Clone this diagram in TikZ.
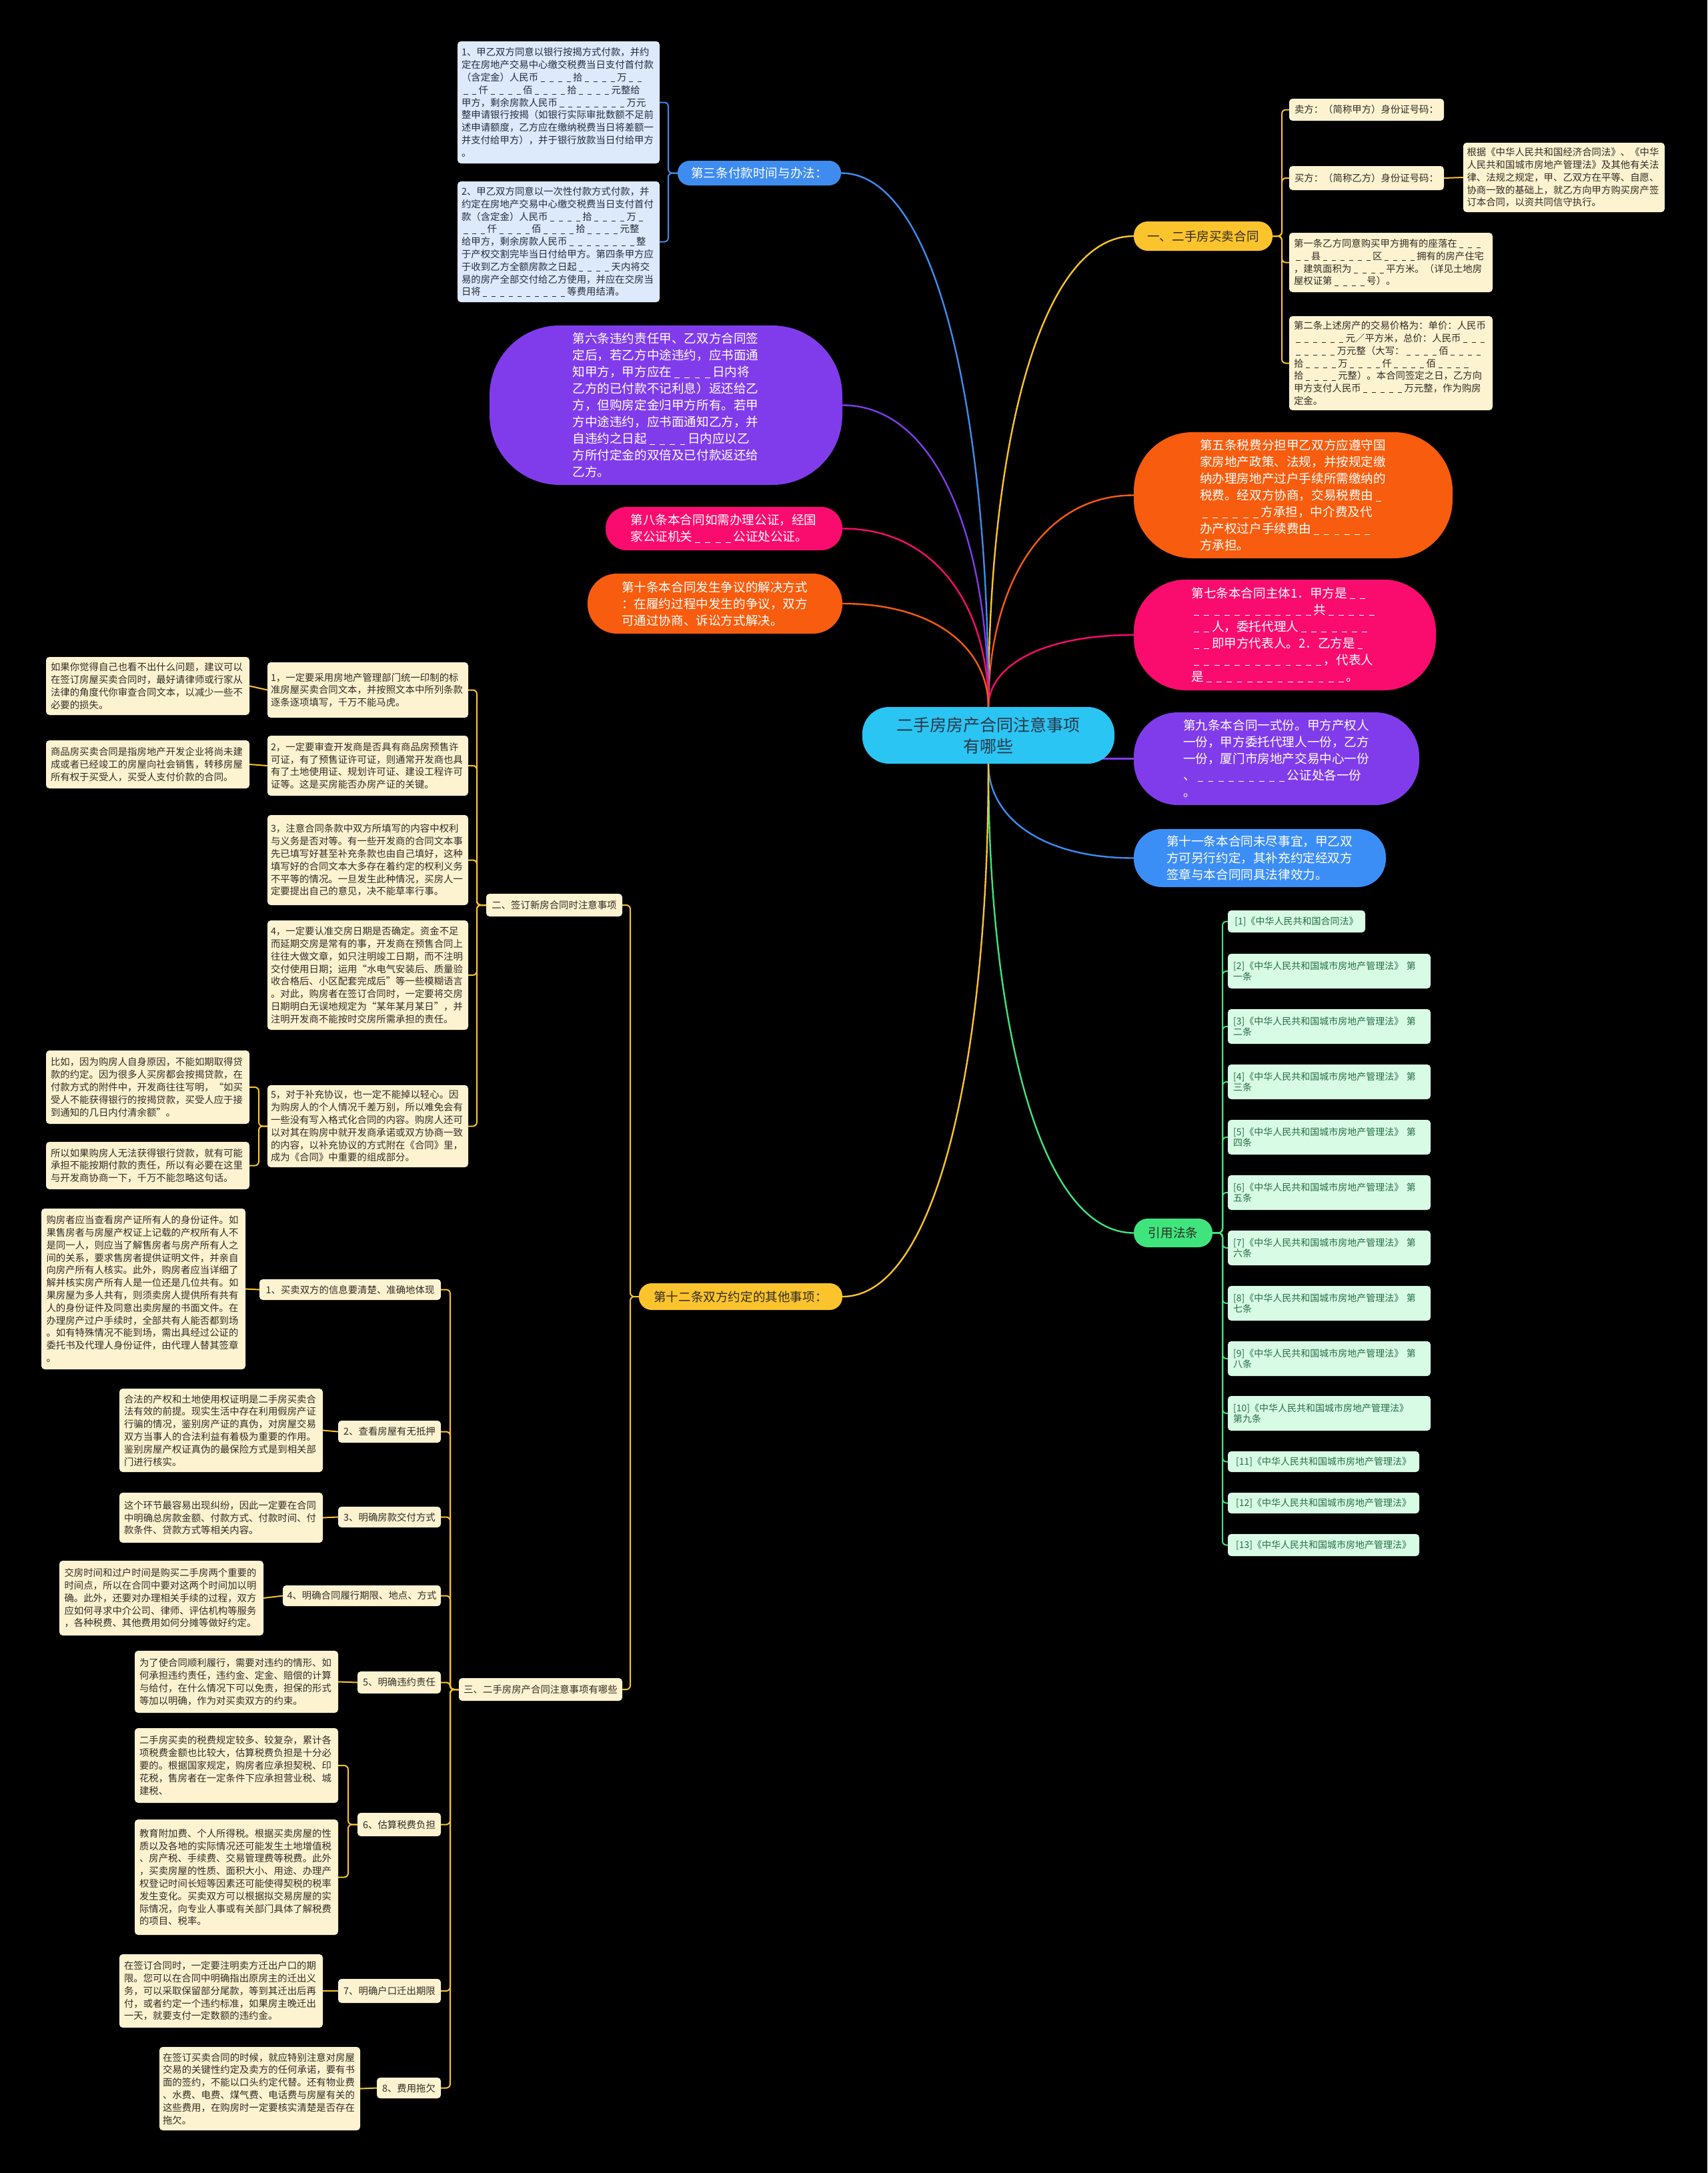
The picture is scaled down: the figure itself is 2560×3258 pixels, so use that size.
\documentclass[tikz,border=0pt]{standalone}
\usepackage{fontspec}
\setmainfont{Noto Sans CJK SC}
\usetikzlibrary{calc}
\pgfdeclarelayer{back}
\pgfdeclarelayer{edges}
\pgfsetlayers{back,edges,main}
\definecolor{ccen}{RGB}{43,197,243}
\definecolor{ccentxt}{RGB}{45,55,72}
\definecolor{cyel}{RGB}{252,196,44}
\definecolor{ccream}{RGB}{254,243,209}
\definecolor{ctxt}{RGB}{48,44,36}
\definecolor{cblue}{RGB}{62,140,240}
\definecolor{clblue}{RGB}{221,234,251}
\definecolor{cbtxt}{RGB}{35,45,60}
\definecolor{cpur}{RGB}{128,60,235}
\definecolor{cpink}{RGB}{250,12,110}
\definecolor{corg}{RGB}{248,92,14}
\definecolor{cblue2}{RGB}{60,142,247}
\definecolor{cgrn}{RGB}{64,228,125}
\definecolor{clgrn}{RGB}{216,251,230}
\definecolor{cgtxt}{RGB}{38,110,68}
\newcommand\ddw{0.82em}
\newcommand\ddone{\makebox[\ddw]{\rule[-0.12em]{0.42em}{0.07em}}}
\newcommand\dd[1]{\ifnum#1>0 \ddone\expandafter\dd\expandafter{\number\numexpr#1-1\relax}\fi}
\newcommand\leaffont{\fontsize{14.4}{18.8}\selectfont\renewcommand\ddw{0.9em}}
\newcommand\bigfont{\fontsize{18.6}{25}\selectfont}
\newcommand\gfont{\fontsize{14}{16}\selectfont}
\newcommand\mybox[7]{%
 \pgfmathsetmacro\mbw{#4-#2}%
 \pgfmathsetmacro\mbh{#5-#3}%
 \pgfmathsetmacro\mbx{(#2+#4)/2}%
 \pgfmathsetmacro\mby{(#3+#5)/2}%
 \node[#6,minimum width=\mbw pt,minimum height=\mbh pt] (#1) at (\mbx,\mby) {#7};}
\newcommand\mcv[3]{\draw[mainln,#1] (#2) .. controls ($(#2)!0.55!(#2|-#3)$) and ($(#2|-#3)!0.35!(#3)$) .. (#3);}
\newcommand\lbr[4]{\draw[subln,#1] (#2.west) -- (#4|-#2.west) |- (#3.east);}
\newcommand\rbr[4]{\draw[subln,#1] (#2.east) -- (#4|-#2.east) |- (#3.west);}
\begin{document}
\begin{tikzpicture}[x=1pt,y=-1pt,
 leaf/.style={fill=ccream,text=ctxt,rounded corners=5pt,inner sep=0pt,align=left,text width=291pt,font=\leaffont},
 lab/.style={fill=ccream,text=ctxt,rounded corners=5pt,inner sep=0pt,align=center,font=\leaffont},
 bleaf/.style={leaf,fill=clblue,text=cbtxt},
 big/.style={text=white,inner sep=0pt,align=left,text width=280pt,font=\bigfont},
 mid/.style={inner sep=0pt,align=center,font=\bigfont},
 gleaf/.style={fill=clgrn,text=cgtxt,rounded corners=5pt,inner sep=0pt,font=\gfont},
 gleaf2/.style={gleaf,align=left,text width=288pt},
 mainln/.style={line width=2.4pt},
 subln/.style={line width=2pt,rounded corners=6pt}]
\useasboundingbox (0,0) rectangle (2560,3258);
\begin{pgfonlayer}{back}
\fill[black] (0,0) rectangle (2560,3258);
\end{pgfonlayer}

% ---------- center ----------
\mybox{cen}{1293}{1060}{1671}{1145}{fill=ccen,text=ccentxt,rounded corners=40pt,inner sep=0pt,align=center,font=\fontsize{25}{32}\selectfont}{二手房房产合同注意事项\\有哪些}

% ---------- right side ----------
\mybox{n1}{1700}{332}{1908}{376}{mid,fill=cyel,text=ctxt,rounded corners=21pt}{一、二手房买卖合同}
\mybox{a1}{1933}{148}{2165}{181}{lab}{卖方：（简称甲方）身份证号码：}
\mybox{a2}{1933}{249}{2165}{285}{lab}{买方：（简称乙方）身份证号码：}
\mybox{a2c}{2194}{214}{2496}{318}{leaf}{根据《中华人民共和国经济合同法》、《中华\\人民共和国城市房地产管理法》及其他有关法\\律、法规之规定，甲、乙双方在平等、自愿、\\协商一致的基础上，就乙方向甲方购买房产签\\订本合同，以资共同信守执行。}
\mybox{a3}{1933}{349}{2238}{438}{leaf}{第一条乙方同意购买甲方拥有的座落在\dd3\\\dd2县\dd6区\dd4拥有的房产住宅\\，建筑面积为\dd4平方米。（详见土地房\\屋权证第\dd4号）。}
\mybox{a4}{1933}{474}{2238}{615}{leaf}{第二条上述房产的交易价格为：单价：人民币\\\dd6元／平方米，总价：人民币\dd3\\\dd5万元整（大写：\dd4佰\dd4\\拾\dd4万\dd4仟\dd4佰\dd4\\拾\dd4元整）。本合同签定之日，乙方向\\甲方支付人民币\dd5万元整，作为购房\\定金。}

\mybox{n5}{1700}{648}{2178}{837}{big,fill=corg,rounded corners=88pt}{第五条税费分担甲乙双方应遵守国\\家房地产政策、法规，并按规定缴\\纳办理房地产过户手续所需缴纳的\\税费。经双方协商，交易税费由\dd1\\\dd6方承担，中介费及代\\办产权过户手续费由\dd6\\方承担。}
\mybox{n7}{1700}{869}{2153}{1035}{big,fill=cpink,rounded corners=78pt}{第七条本合同主体1．甲方是\dd2\\\dd{12}共\dd5\\\dd2人，委托代理人\dd7\\\dd2即甲方代表人。2．乙方是\dd1\\\dd{13}，代表人\\是\dd{14}。}
\mybox{n9}{1700}{1068}{2128}{1207}{big,fill=cpur,rounded corners=66pt}{第九条本合同一式份。甲方产权人\\一份，甲方委托代理人一份，乙方\\一份，厦门市房地产交易中心一份\\、\dd9公证处各一份\\。}
\mybox{n11}{1700}{1243}{2078}{1330}{big,fill=cblue2,rounded corners=42pt}{第十一条本合同未尽事宜，甲乙双\\方可另行约定，其补充约定经双方\\签章与本合同同具法律效力。}
\mybox{law}{1700}{1827}{1818}{1870}{mid,fill=cgrn,text=ctxt,rounded corners=21pt}{引用法条}

\mybox{g1}{1841}{1365}{2047}{1398}{gleaf}{[1]《中华人民共和国合同法》}
\mybox{g2}{1841}{1430}{2145}{1482}{gleaf2}{[2]《中华人民共和国城市房地产管理法》 第\\一条}
\mybox{g3}{1841}{1513}{2145}{1565}{gleaf2}{[3]《中华人民共和国城市房地产管理法》 第\\二条}
\mybox{g4}{1841}{1596}{2145}{1648}{gleaf2}{[4]《中华人民共和国城市房地产管理法》 第\\三条}
\mybox{g5}{1841}{1679}{2145}{1731}{gleaf2}{[5]《中华人民共和国城市房地产管理法》 第\\四条}
\mybox{g6}{1841}{1762}{2145}{1814}{gleaf2}{[6]《中华人民共和国城市房地产管理法》 第\\五条}
\mybox{g7}{1841}{1845}{2145}{1897}{gleaf2}{[7]《中华人民共和国城市房地产管理法》 第\\六条}
\mybox{g8}{1841}{1928}{2145}{1980}{gleaf2}{[8]《中华人民共和国城市房地产管理法》 第\\七条}
\mybox{g9}{1841}{2011}{2145}{2063}{gleaf2}{[9]《中华人民共和国城市房地产管理法》 第\\八条}
\mybox{g10}{1841}{2093}{2145}{2145}{gleaf2}{[10]《中华人民共和国城市房地产管理法》\\第九条}
\mybox{g11}{1841}{2176}{2128}{2207}{gleaf}{[11]《中华人民共和国城市房地产管理法》}
\mybox{g12}{1841}{2238}{2128}{2269}{gleaf}{[12]《中华人民共和国城市房地产管理法》}
\mybox{g13}{1841}{2300}{2128}{2333}{gleaf}{[13]《中华人民共和国城市房地产管理法》}

% ---------- left side ----------
\mybox{p3}{1016}{241}{1261}{278}{mid,fill=cblue,text=white,rounded corners=18pt}{第三条付款时间与办法：}
\mybox{pa}{686}{62}{989}{245}{bleaf}{1、甲乙双方同意以银行按揭方式付款，并约\\定在房地产交易中心缴交税费当日支付首付款\\（含定金）人民币\dd4拾\dd4万\dd2\\\dd2仟\dd4佰\dd4拾\dd4元整给\\甲方，剩余房款人民币\dd8万元\\整申请银行按揭（如银行实际审批数额不足前\\述申请额度，乙方应在缴纳税费当日将差额一\\并支付给甲方），并于银行放款当日付给甲方\\。}
\mybox{pb}{686}{272}{989}{453}{bleaf}{2、甲乙双方同意以一次性付款方式付款，并\\约定在房地产交易中心缴交税费当日支付首付\\款（含定金）人民币\dd4拾\dd4万\dd1\\\dd3仟\dd4佰\dd4拾\dd4元整\\给甲方，剩余房款人民币\dd8整\\于产权交割完毕当日付给甲方。第四条甲方应\\于收到乙方全额房款之日起\dd4天内将交\\易的房产全部交付给乙方使用，并应在交房当\\日将\dd{10}等费用结清。}

\mybox{n6}{734}{488}{1263}{727}{big,fill=cpur,rounded corners=105pt}{第六条违约责任甲、乙双方合同签\\定后，若乙方中途违约，应书面通\\知甲方，甲方应在\dd4日内将\\乙方的已付款不记利息）返还给乙\\方，但购房定金归甲方所有。若甲\\方中途违约，应书面通知乙方，并\\自违约之日起\dd4日内应以乙\\方所付定金的双倍及已付款返还给\\乙方。}
\mybox{n8}{908}{760}{1263}{825}{big,fill=cpink,rounded corners=32pt}{第八条本合同如需办理公证，经国\\家公证机关\dd4公证处公证。}
\mybox{n10}{881}{860}{1263}{950}{big,fill=corg,rounded corners=44pt}{第十条本合同发生争议的解决方式\\：在履约过程中发生的争议，双方\\可通过协商、诉讼方式解决。}
\mybox{n12}{958}{1924}{1263}{1964}{mid,fill=cyel,text=ctxt,rounded corners=19pt}{第十二条双方约定的其他事项：}

\mybox{sb}{729}{1340}{933}{1374}{lab}{二、签订新房合同时注意事项}
\mybox{s1}{401}{993}{702}{1076}{leaf}{1，一定要采用房地产管理部门统一印制的标\\准房屋买卖合同文本，并按照文本中所列条款\\逐条逐项填写，千万不能马虎。}
\mybox{s1c}{69}{985}{374}{1072}{leaf}{如果你觉得自己也看不出什么问题，建议可以\\在签订房屋买卖合同时，最好请律师或行家从\\法律的角度代你审查合同文本，以减少一些不\\必要的损失。}
\mybox{s2}{401}{1103}{702}{1193}{leaf}{2，一定要审查开发商是否具有商品房预售许\\可证，有了预售证许可证，则通常开发商也具\\有了土地使用证、规划许可证、建设工程许可\\证等。这是买房能否办房产证的关键。}
\mybox{s2c}{69}{1110}{374}{1182}{leaf}{商品房买卖合同是指房地产开发企业将尚未建\\成或者已经竣工的房屋向社会销售，转移房屋\\所有权于买受人，买受人支付价款的合同。}
\mybox{s3}{401}{1222}{702}{1357}{leaf}{3，注意合同条款中双方所填写的内容中权利\\与义务是否对等。有一些开发商的合同文本事\\先已填写好甚至补充条款也由自己填好，这种\\填写好的合同文本大多存在着约定的权利义务\\不平等的情况。一旦发生此种情况，买房人一\\定要提出自己的意见，决不能草率行事。}
\mybox{s4}{401}{1380}{702}{1544}{leaf}{4，一定要认准交房日期是否确定。资金不足\\而延期交房是常有的事，开发商在预售合同上\\往往大做文章，如只注明竣工日期，而不注明\\交付使用日期；运用“水电气安装后、质量验\\收合格后、小区配套完成后”等一些模糊语言\\。对此，购房者在签订合同时，一定要将交房\\日期明白无误地规定为“某年某月某日”，并\\注明开发商不能按时交房所需承担的责任。}
\mybox{s5}{401}{1627}{702}{1750}{leaf}{5，对于补充协议，也一定不能掉以轻心。因\\为购房人的个人情况千差万别，所以难免会有\\一些没有写入格式化合同的内容。购房人还可\\以对其在购房中就开发商承诺或双方协商一致\\的内容，以补充协议的方式附在《合同》里，\\成为《合同》中重要的组成部分。}
\mybox{s5a}{69}{1575}{374}{1685}{leaf}{比如，因为购房人自身原因，不能如期取得贷\\款的约定。因为很多人买房都会按揭贷款，在\\付款方式的附件中，开发商往往写明，“如买\\受人不能获得银行的按揭贷款，买受人应于接\\到通知的几日内付清余额”。}
\mybox{s5b}{69}{1712}{374}{1783}{leaf}{所以如果购房人无法获得银行贷款，就有可能\\承担不能按期付款的责任，所以有必要在这里\\与开发商协商一下，千万不能忽略这句话。}

\mybox{tb}{688}{2516}{933}{2550}{lab}{三、二手房房产合同注意事项有哪些}
\mybox{t1}{389}{1918}{661}{1949}{lab}{1、买卖双方的信息要清楚、准确地体现}
\mybox{t1c}{62}{1812}{368}{2053}{leaf}{购房者应当查看房产证所有人的身份证件。如\\果售房者与房屋产权证上记载的产权所有人不\\是同一人，则应当了解售房者与房产所有人之\\间的关系，要求售房者提供证明文件，并亲自\\向房产所有人核实。此外，购房者应当详细了\\解并核实房产所有人是一位还是几位共有。如\\果房屋为多人共有，则须卖房人提供所有共有\\人的身份证件及同意出卖房屋的书面文件。在\\办理房产过户手续时，全部共有人能否都到场\\。如有特殊情况不能到场，需出具经过公证的\\委托书及代理人身份证件，由代理人替其签章\\。}
\mybox{t2}{507}{2130}{661}{2163}{lab}{2、查看房屋有无抵押}
\mybox{t2c}{179}{2082}{484}{2207}{leaf}{合法的产权和土地使用权证明是二手房买卖合\\法有效的前提。现实生活中存在利用假房产证\\行骗的情况，鉴别房产证的真伪，对房屋交易\\双方当事人的合法利益有着极为重要的作用。\\鉴别房屋产权证真伪的最保险方式是到相关部\\门进行核实。}
\mybox{t3}{507}{2259}{661}{2290}{lab}{3、明确房款交付方式}
\mybox{t3c}{179}{2238}{484}{2313}{leaf}{这个环节最容易出现纠纷，因此一定要在合同\\中明确总房款金额、付款方式、付款时间、付\\款条件、贷款方式等相关内容。}
\mybox{t4}{424}{2377}{661}{2408}{lab}{4、明确合同履行期限、地点、方式}
\mybox{t4c}{89}{2340}{395}{2452}{leaf}{交房时间和过户时间是购买二手房两个重要的\\时间点，所以在合同中要对这两个时间加以明\\确。此外，还要对办理相关手续的过程，双方\\应如何寻求中介公司、律师、评估机构等服务\\，各种税费、其他费用如何分摊等做好约定。}
\mybox{t5}{536}{2506}{661}{2539}{lab}{5、明确违约责任}
\mybox{t5c}{202}{2475}{507}{2568}{leaf}{为了使合同顺利履行，需要对违约的情形、如\\何承担违约责任，违约金、定金、赔偿的计算\\与给付，在什么情况下可以免责，担保的形式\\等加以明确，作为对买卖双方的约束。}
\mybox{t6}{536}{2718}{661}{2753}{lab}{6、估算税费负担}
\mybox{t6a}{202}{2591}{507}{2703}{leaf}{二手房买卖的税费规定较多、较复杂，累计各\\项税费金额也比较大，估算税费负担是十分必\\要的。根据国家规定，购房者应承担契税、印\\花税，售房者在一定条件下应承担营业税、城\\建税、}
\mybox{t6b}{202}{2728}{507}{2901}{leaf}{教育附加费、个人所得税。根据买卖房屋的性\\质以及各地的实际情况还可能发生土地增值税\\、房产税、手续费、交易管理费等税费。此外\\，买卖房屋的性质、面积大小、用途、办理产\\权登记时间长短等因素还可能使得契税的税率\\发生变化。买卖双方可以根据拟交易房屋的实\\际情况，向专业人事或有关部门具体了解税费\\的项目、税率。}
\mybox{t7}{507}{2967}{661}{3003}{lab}{7、明确户口迁出期限}
\mybox{t7c}{179}{2930}{484}{3040}{leaf}{在签订合同时，一定要注明卖方迁出户口的期\\限。您可以在合同中明确指出原房主的迁出义\\务，可以采取保留部分尾款，等到其迁出后再\\付，或者约定一个违约标准，如果房主晚迁出\\一天，就要支付一定数额的违约金。}
\mybox{t8}{565}{3115}{661}{3146}{lab}{8、费用拖欠}
\mybox{t8c}{239}{3069}{540}{3194}{leaf}{在签订买卖合同的时候，就应特别注意对房屋\\交易的关键性约定及卖方的任何承诺，要有书\\面的签约，不能以口头约定代替。还有物业费\\、水费、电费、煤气费、电话费与房屋有关的\\这些费用，在购房时一定要核实清楚是否存在\\拖欠。}

% ---------- trunk coordinates ----------
\coordinate (tkn1) at (1922,0);
\coordinate (tkla) at (1833,0);
\coordinate (tkp3) at (1002,0);
\coordinate (tk12) at (945,0);
\coordinate (tksb) at (715,0);
\coordinate (tks1) at (388,0);
\coordinate (tktb) at (675,0);
\coordinate (tkt6) at (522,0);
\coordinate (tkx) at (2180,0);
\coordinate (c9) at (1645,1137.5);

% ---------- connectors ----------
\begin{pgfonlayer}{edges}
\mcv{cyel}{cen.north}{n1.west}
\mcv{corg}{cen.north}{n5.west}
\mcv{cpink}{cen.north}{n7.west}
\draw[mainln,cpur] (c9) -- (n9.west);
\mcv{cblue2}{cen.south}{n11.west}
\mcv{cgrn}{cen.south}{law.west}
\mcv{cblue}{cen.north}{p3.east}
\mcv{cpur}{cen.north}{n6.east}
\mcv{cpink}{cen.north}{n8.east}
\mcv{corg}{cen.north}{n10.east}
\mcv{cyel}{cen.south}{n12.east}

\foreach \c in {a1,a2,a3,a4}{\rbr{cyel}{n1}{\c}{tkn1}}
\draw[subln,cyel] (a2.east) -- (a2c.west);
\foreach \c in {g1,g2,g3,g4,g5,g6,g7,g8,g9,g10,g11,g12,g13}{\rbr{cgrn}{law}{\c}{tkla}}
\foreach \c in {pa,pb}{\lbr{cblue}{p3}{\c}{tkp3}}
\foreach \c in {sb,tb}{\lbr{cyel}{n12}{\c}{tk12}}
\foreach \c in {s1,s2,s3,s4,s5}{\lbr{cyel}{sb}{\c}{tksb}}
\draw[subln,cyel] (s1.west) -- (s1c.east);
\draw[subln,cyel] (s2.west) -- (s2c.east);
\foreach \c in {s5a,s5b}{\lbr{cyel}{s5}{\c}{tks1}}
\foreach \c in {t1,t2,t3,t4,t5,t6,t7,t8}{\lbr{cyel}{tb}{\c}{tktb}}
\draw[subln,cyel] (t1.west) -- (t1c.east);
\draw[subln,cyel] (t2.west) -- (t2c.east);
\draw[subln,cyel] (t3.west) -- (t3c.east);
\draw[subln,cyel] (t4.west) -- (t4c.east);
\draw[subln,cyel] (t5.west) -- (t5c.east);
\foreach \c in {t6a,t6b}{\lbr{cyel}{t6}{\c}{tkt6}}
\draw[subln,cyel] (t7.west) -- (t7c.east);
\draw[subln,cyel] (t8.west) -- (t8c.east);
\end{pgfonlayer}
\end{tikzpicture}
\end{document}
